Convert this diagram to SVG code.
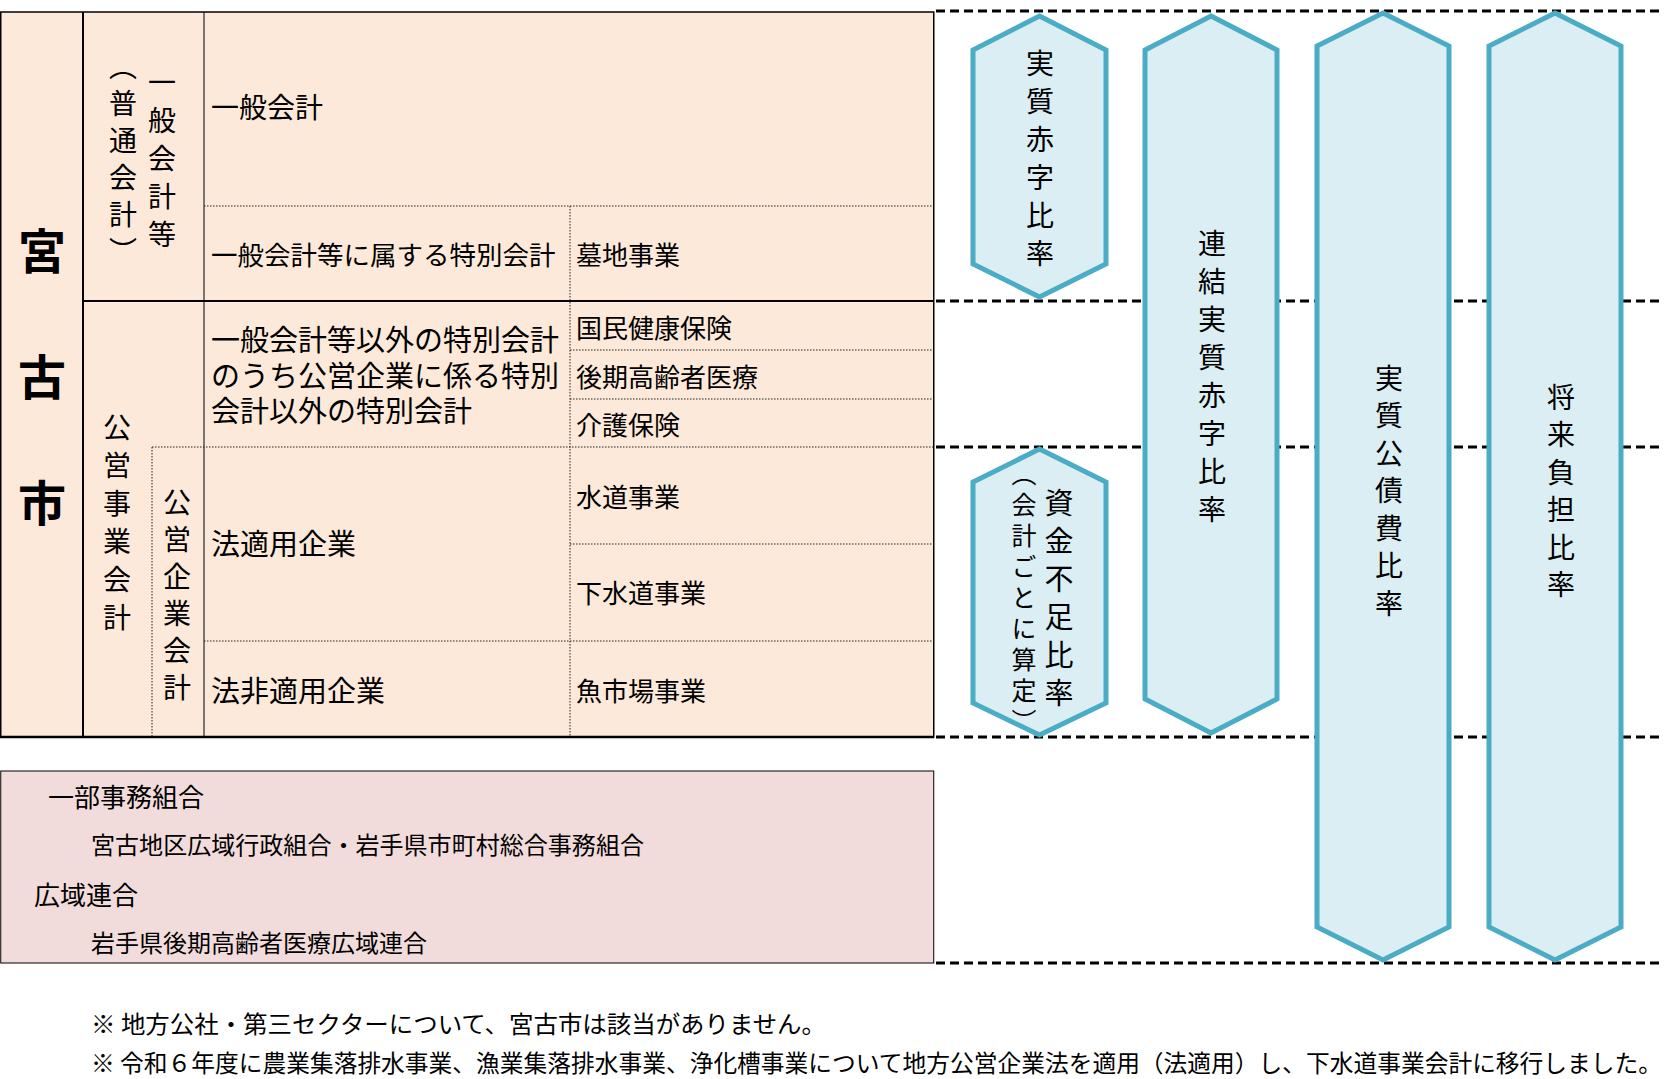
<svg xmlns="http://www.w3.org/2000/svg" width="1664" height="1079" viewBox="0 0 1664 1079">
<style>
text { font-family: "Noto Sans CJK JP", "Noto Sans", sans-serif; fill: #000; }
.h { dominant-baseline: central; }
.v { writing-mode: vertical-rl; }
.solid { stroke: #000; fill: none; }
.dot { stroke: #222; stroke-width: 1; stroke-dasharray: 1.5 1.5; fill: none; }
.dash { stroke: #000; stroke-width: 3; stroke-dasharray: 9 5; fill: none; }
.hex { fill: #DAEEF3; stroke: #4BACC6; stroke-width: 5; stroke-linejoin: miter; }
.big { font-size: 48px; font-weight: bold; }
.m { font-size: 29px; }
.s { font-size: 26px; }
.n { font-size: 23.5px; }
</style>
<rect width="1664" height="1079" fill="#fff"/>

<g id="table">
  <rect x="0.75" y="12" width="933" height="725" fill="#FDE9D9" stroke="#000" stroke-width="1.5"/>
  <line class="solid" x1="83" y1="12" x2="83" y2="737" stroke-width="2"/>
  <line class="solid" x1="83" y1="301" x2="934" y2="301" stroke-width="2"/>
  <line class="solid" x1="0" y1="737" x2="934" y2="737" stroke-width="2.5"/>
  <line class="solid" x1="204" y1="12" x2="204" y2="737" stroke-width="1"/>
  <line class="dot" x1="204" y1="206" x2="934" y2="206"/>
  <line class="dot" x1="570" y1="206" x2="570" y2="737"/>
  <line class="dot" x1="570" y1="350" x2="934" y2="350"/>
  <line class="dot" x1="570" y1="399" x2="934" y2="399"/>
  <line class="dot" x1="152" y1="447" x2="934" y2="447"/>
  <line class="dot" x1="152" y1="447" x2="152" y2="737"/>
  <line class="dot" x1="570" y1="544" x2="934" y2="544"/>
  <line class="dot" x1="204" y1="641" x2="934" y2="641"/>
</g>

<g id="miyako">
  <text class="h big" x="42" y="248" text-anchor="middle">宮</text>
  <text class="h big" x="42" y="374" text-anchor="middle">古</text>
  <text class="h big" x="42" y="500" text-anchor="middle">市</text>
</g>

<g id="ippan-kaikei-tou">
  <text class="v" x="162" y="68" style="font-size:28px;letter-spacing:10px">一般会計等</text>
  <text class="v" x="123" y="52" style="font-size:28px;letter-spacing:9px">（普通会計）</text>
</g>

<g id="kouei-jigyou">
  <text class="v" x="117" y="413" style="font-size:28px;letter-spacing:10px">公営事業会計</text>
</g>

<g id="kouei-kigyou">
  <text class="v" x="177" y="488" style="font-size:28px;letter-spacing:9px">公営企業会計</text>
</g>

<g id="ippan-kaikei">
  <text class="h" x="211" y="106" style="font-size:28px">一般会計</text>
</g>

<g id="tokubetsu-ippan">
  <text class="h" x="211" y="253" style="font-size:26.5px">一般会計等に属する特別会計</text>
  <text class="h s" x="576" y="253">墓地事業</text>
</g>

<g id="tokubetsu-other">
  <text class="h m"><tspan x="211" y="338">一般会計等以外の特別会計</tspan><tspan x="211" y="374">のうち公営企業に係る特別</tspan><tspan x="211" y="409">会計以外の特別会計</tspan></text>
  <text class="h s" x="576" y="326">国民健康保険</text>
  <text class="h s" x="576" y="375">後期高齢者医療</text>
  <text class="h s" x="576" y="423">介護保険</text>
</g>

<g id="hou-tekiyou">
  <text class="h m" x="211" y="542">法適用企業</text>
  <text class="h s" x="576" y="495">水道事業</text>
  <text class="h s" x="576" y="591">下水道事業</text>
</g>

<g id="hou-hitekiyou">
  <text class="h m" x="211" y="689">法非適用企業</text>
  <text class="h s" x="576" y="689">魚市場事業</text>
</g>

<g id="kumiai">
  <rect x="0.75" y="771" width="933" height="192" fill="#F2DCDB" stroke="#000" stroke-width="1"/>
  <text class="h s" x="48" y="795">一部事務組合</text>
  <text class="h" x="91" y="843" style="font-size:24px" textLength="553" lengthAdjust="spacingAndGlyphs">宮古地区広域行政組合・岩手県市町村総合事務組合</text>
  <text class="h s" x="34" y="893">広域連合</text>
  <text class="h" x="91" y="941" style="font-size:24px">岩手県後期高齢者医療広域連合</text>
</g>

<g id="notes">
  <text class="h n" x="91" y="1023" textLength="735" lengthAdjust="spacingAndGlyphs">※ 地方公社・第三セクターについて、宮古市は該当がありません。</text>
  <text class="h n" x="91" y="1062" textLength="1571" lengthAdjust="spacingAndGlyphs">※ 令和６年度に農業集落排水事業、漁業集落排水事業、浄化槽事業について地方公営企業法を適用（法適用）し、下水道事業会計に移行しました。</text>
</g>

<g id="connectors">
  <line class="dash" x1="936" y1="11" x2="1664" y2="11"/>
  <line class="dash" x1="936" y1="301" x2="1664" y2="301"/>
  <line class="dash" x1="936" y1="447" x2="1664" y2="447"/>
  <line class="dash" x1="936" y1="737" x2="1664" y2="737"/>
  <line class="dash" x1="936" y1="963" x2="1664" y2="963"/>
</g>

<g id="jisshitsu-akaji">
  <polygon class="hex" points="1039.5,16 1106,50 1106,264 1039.5,297 973,264 973,50"/>
  <text class="v" x="1040" y="49" style="font-size:28px;letter-spacing:10px">実質赤字比率</text>
</g>

<g id="renketsu-akaji">
  <polygon class="hex" points="1211,16 1277,50 1277,699 1211,733 1145,699 1145,50"/>
  <text class="v" x="1212" y="229" style="font-size:28px;letter-spacing:10px">連結実質赤字比率</text>
</g>

<g id="shikin-fusoku">
  <polygon class="hex" points="1039.5,449 1106,482 1106,703 1039.5,735 973,703 973,482"/>
  <text class="v" x="1059" y="488" style="font-size:29px;letter-spacing:9px">資金不足比率</text>
  <text class="v" x="1024" y="461" style="font-size:25px;letter-spacing:6px">（会計ごとに算定）</text>
</g>

<g id="jisshitsu-kousaihi">
  <polygon class="hex" points="1383,13 1449,46 1449,927 1383,960 1317,927 1317,46"/>
  <text class="v" x="1389" y="364" style="font-size:28px;letter-spacing:9.5px">実質公債費比率</text>
</g>

<g id="shourai-futan">
  <polygon class="hex" points="1555,13 1621,46 1621,927 1555,960 1489,927 1489,46"/>
  <text class="v" x="1561" y="383" style="font-size:28px;letter-spacing:9.5px">将来負担比率</text>
</g>
</svg>
